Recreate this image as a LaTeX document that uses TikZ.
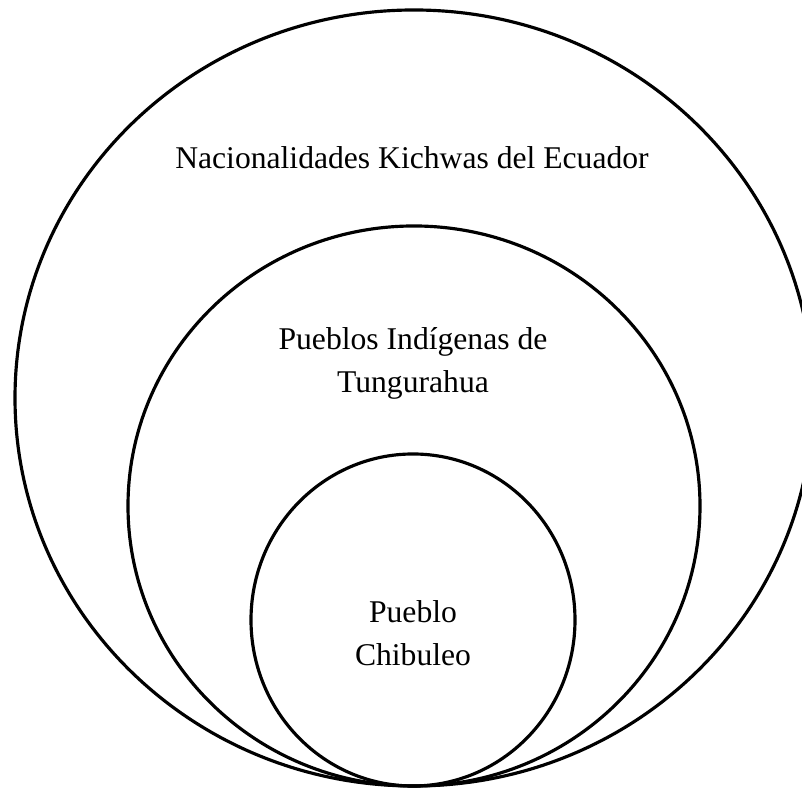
\documentclass[tikz,border=0pt]{standalone}
\usepackage{fontspec}
\setmainfont{Liberation Serif}
\usetikzlibrary{positioning,calc}

\begin{document}
\begin{tikzpicture}[x=1cm,y=1cm]
\tikzset{ring/.style={draw=black,line width=0.9pt},
  ringlabel/.style={align=center,font=\fontsize{9}{12.2}\selectfont,inner sep=0pt}}

% Page frame (clips the outer ring on the right)
\useasboundingbox (0,0) rectangle (8.02,7.89);
\clip (0,0) rectangle (8.02,7.89);

\def\cx{4.14} % common x of the centres
\def\base{0.03} % tangent point at the bottom

% Centres of the three rings
\coordinate (Nacional) at (\cx, \base+3.88);
\coordinate (Tungu)    at (\cx, \base+2.80);
\coordinate (Chibu)    at (\cx-0.01, \base+1.66);

% Nested rings, all touching at the bottom
\draw[ring] (Nacional) ellipse [x radius=3.99, y radius=3.88];
\draw[ring] (Tungu) ellipse [x radius=2.86, y radius=2.80];
\draw[ring] (Chibu) ellipse [x radius=1.62, y radius=1.66];

% Labels
\node[ringlabel] (nacLbl) at (4.12,6.31) {Nacionalidades Kichwas del Ecuador};
\node[ringlabel] (tunLbl) at (4.13,4.26) {Pueblos Indígenas de\\Tungurahua};
\node[ringlabel] (chiLbl) at (4.13,1.56) {Pueblo\\Chibuleo};
\end{tikzpicture}
\end{document}
